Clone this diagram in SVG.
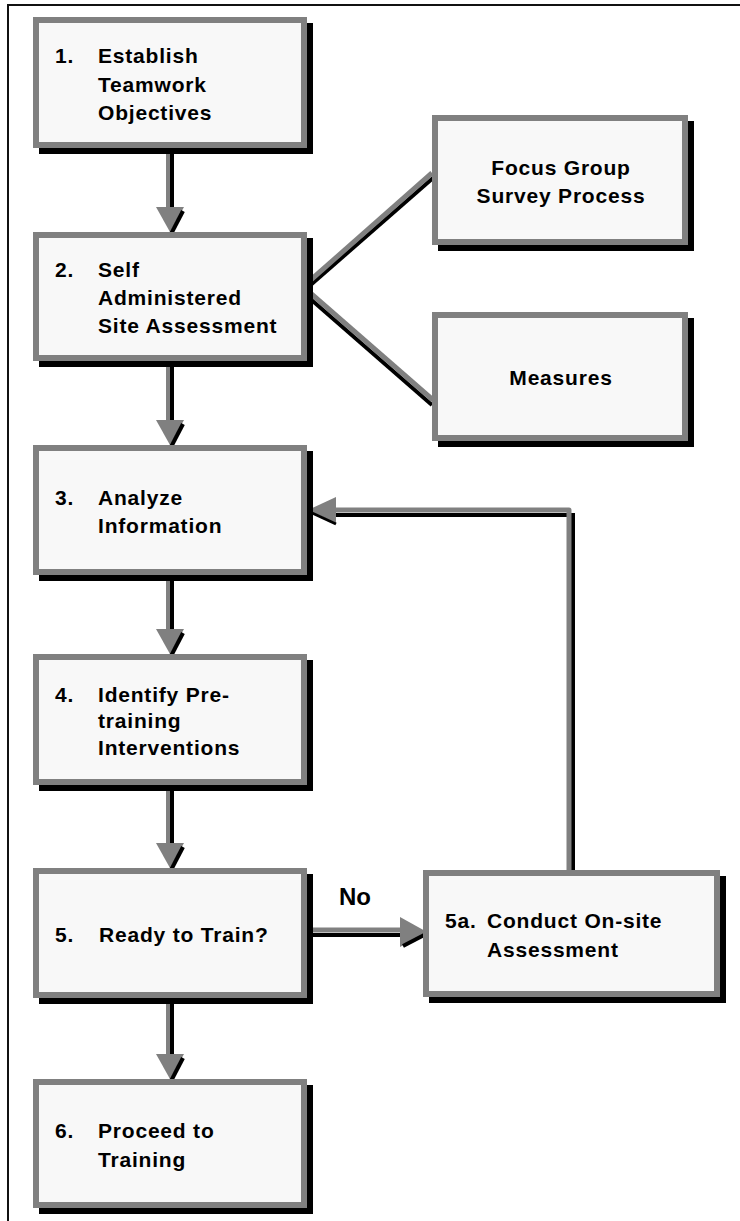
<svg xmlns="http://www.w3.org/2000/svg" width="740" height="1221" viewBox="0 0 740 1221">
<style>
.sh{fill:#000}
.bd{fill:#808080}
.in{fill:#f8f8f8}
text{font-family:"Liberation Sans",Arial,sans-serif;font-weight:bold;font-size:21px;letter-spacing:0.8px;fill:#000}
.c{text-anchor:middle}
.g{stroke:#808080;fill:none}
.k{stroke:#000;fill:none}
.ah{fill:#808080}
</style>
<rect width="740" height="1221" fill="#fff"/>
<path d="M7 5 H740 M8 5 V1221" stroke="#111" stroke-width="2" fill="none"/>

<g id="connectors">
  <!-- vertical arrows main column -->
  <g id="a12">
    <line x1="172" y1="153" x2="172" y2="209" class="k" stroke-width="4"/>
    <line x1="168" y1="150" x2="168" y2="209" class="g" stroke-width="4"/>
    <polygon points="156,207 184,207 170,232" class="ah"/>
    <line x1="183" y1="211" x2="171" y2="234" class="k" stroke-width="4"/>
  </g>
  <g id="a23">
    <line x1="172" y1="366" x2="172" y2="422" class="k" stroke-width="4"/>
    <line x1="168" y1="363" x2="168" y2="422" class="g" stroke-width="4"/>
    <polygon points="156,420 184,420 170,445" class="ah"/>
    <line x1="183" y1="424" x2="171" y2="447" class="k" stroke-width="4"/>
  </g>
  <g id="a34">
    <line x1="172" y1="580" x2="172" y2="631" class="k" stroke-width="4"/>
    <line x1="168" y1="577" x2="168" y2="631" class="g" stroke-width="4"/>
    <polygon points="156,629 184,629 170,654" class="ah"/>
    <line x1="183" y1="633" x2="171" y2="656" class="k" stroke-width="4"/>
  </g>
  <g id="a45">
    <line x1="172" y1="790" x2="172" y2="845" class="k" stroke-width="4"/>
    <line x1="168" y1="787" x2="168" y2="845" class="g" stroke-width="4"/>
    <polygon points="156,843 184,843 170,868" class="ah"/>
    <line x1="183" y1="847" x2="171" y2="870" class="k" stroke-width="4"/>
  </g>
  <g id="a56">
    <line x1="172" y1="1003" x2="172" y2="1056" class="k" stroke-width="4"/>
    <line x1="168" y1="1000" x2="168" y2="1056" class="g" stroke-width="4"/>
    <polygon points="156,1054 184,1054 170,1079" class="ah"/>
    <line x1="183" y1="1058" x2="171" y2="1081" class="k" stroke-width="4"/>
  </g>
  <!-- No arrow -->
  <g id="a5to5a">
    <line x1="305" y1="935" x2="402" y2="935" class="k" stroke-width="4"/>
    <line x1="300" y1="930" x2="402" y2="930" class="g" stroke-width="5"/>
    <polygon points="400,917 400,947 427,932" class="ah"/>
    <line x1="403" y1="946" x2="428" y2="933" class="k" stroke-width="4"/>
  </g>
  <!-- feedback -->
  <g id="a5ato3">
    <path d="M573 873 V515 H333" class="k" stroke-width="4"/>
    <path d="M569 870 V510 H333" class="g" stroke-width="5" stroke-linejoin="round"/>
    <polygon points="336,497 336,523 308,510" class="ah"/>
    <line x1="310" y1="512" x2="336" y2="524" class="k" stroke-width="3"/>
  </g>
  <!-- branches -->
  <g id="b2f">
    <line x1="306" y1="289" x2="433" y2="178" class="k" stroke-width="4"/>
    <line x1="305" y1="285" x2="432" y2="173" class="g" stroke-width="5"/>
  </g>
  <g id="b2m">
    <line x1="307" y1="296" x2="432" y2="405" class="k" stroke-width="4"/>
    <line x1="308" y1="291" x2="433" y2="400" class="g" stroke-width="5"/>
  </g>
</g>

<g id="n1">
  <rect x="39" y="23" width="274" height="131" class="sh"/>
  <rect x="33" y="17" width="274" height="131" class="bd"/>
  <rect x="39" y="23" width="262" height="119" class="in"/>
  <text x="55" y="63">1.</text>
  <text x="98" y="63">Establish</text>
  <text x="98" y="92">Teamwork</text>
  <text x="98" y="120">Objectives</text>
</g>
<g id="n2">
  <rect x="39" y="238" width="274" height="129" class="sh"/>
  <rect x="33" y="232" width="274" height="129" class="bd"/>
  <rect x="39" y="238" width="262" height="117" class="in"/>
  <text x="55" y="277">2.</text>
  <text x="98" y="277">Self</text>
  <text x="98" y="305">Administered</text>
  <text x="98" y="333">Site Assessment</text>
</g>
<g id="n3">
  <rect x="39" y="451" width="274" height="130" class="sh"/>
  <rect x="33" y="445" width="274" height="130" class="bd"/>
  <rect x="39" y="451" width="262" height="118" class="in"/>
  <text x="55" y="505">3.</text>
  <text x="98" y="505">Analyze</text>
  <text x="98" y="533">Information</text>
</g>
<g id="n4">
  <rect x="39" y="660" width="274" height="131" class="sh"/>
  <rect x="33" y="654" width="274" height="131" class="bd"/>
  <rect x="39" y="660" width="262" height="119" class="in"/>
  <text x="55" y="702">4.</text>
  <text x="98" y="702">Identify Pre-</text>
  <text x="98" y="728">training</text>
  <text x="98" y="755">Interventions</text>
</g>
<g id="n5">
  <rect x="39" y="874" width="274" height="130" class="sh"/>
  <rect x="33" y="868" width="274" height="130" class="bd"/>
  <rect x="39" y="874" width="262" height="118" class="in"/>
  <text x="55" y="942">5.</text>
  <text x="99" y="942">Ready to Train?</text>
</g>
<g id="n6">
  <rect x="39" y="1085" width="274" height="129" class="sh"/>
  <rect x="33" y="1079" width="274" height="129" class="bd"/>
  <rect x="39" y="1085" width="262" height="117" class="in"/>
  <text x="55" y="1138">6.</text>
  <text x="98" y="1138">Proceed to</text>
  <text x="98" y="1167">Training</text>
</g>
<g id="nFocus">
  <rect x="438" y="121" width="256" height="130" class="sh"/>
  <rect x="432" y="115" width="256" height="130" class="bd"/>
  <rect x="438" y="121" width="244" height="118" class="in"/>
  <text x="561" y="175" class="c">Focus Group</text>
  <text x="561" y="203" class="c">Survey Process</text>
</g>
<g id="nMeasures">
  <rect x="438" y="318" width="256" height="129" class="sh"/>
  <rect x="432" y="312" width="256" height="129" class="bd"/>
  <rect x="438" y="318" width="244" height="117" class="in"/>
  <text x="561" y="385" class="c">Measures</text>
</g>
<g id="n5a">
  <rect x="429" y="876" width="297" height="127" class="sh"/>
  <rect x="423" y="870" width="297" height="127" class="bd"/>
  <rect x="429" y="876" width="285" height="115" class="in"/>
  <text x="445" y="928">5a.</text>
  <text x="487" y="928">Conduct On-site</text>
  <text x="487" y="957">Assessment</text>
</g>
<g id="lblNo">
  <text x="339" y="905" style="font-size:24px;letter-spacing:0">No</text>
</g>
</svg>
